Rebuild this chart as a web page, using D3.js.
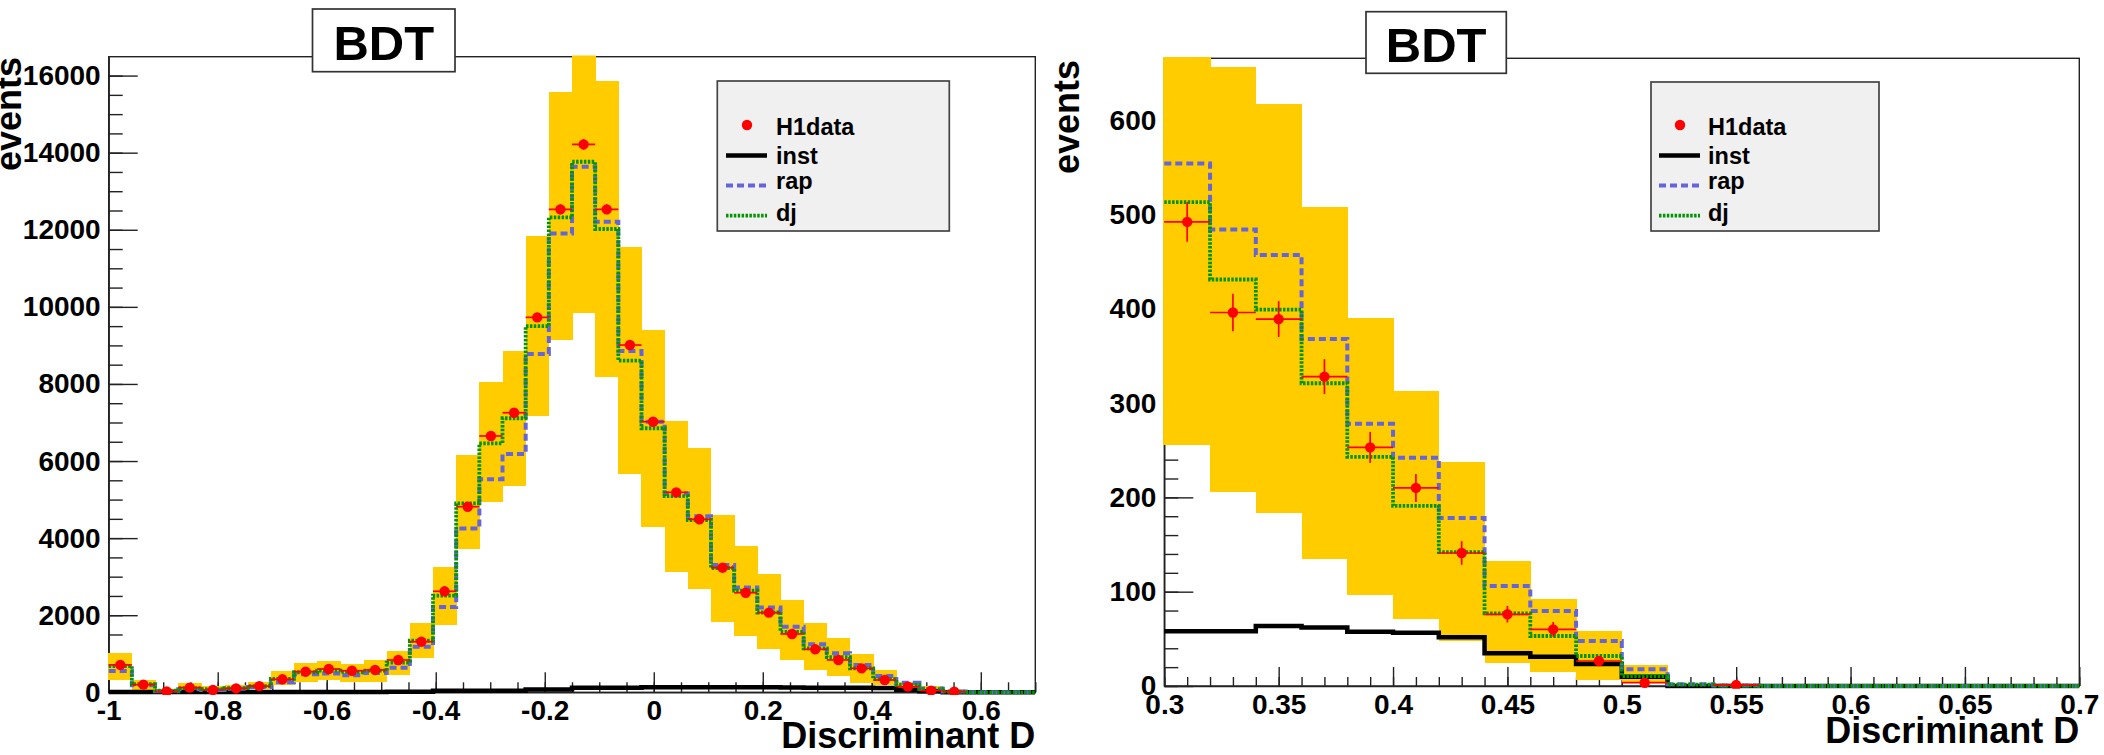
<!DOCTYPE html>
<html><head><meta charset="utf-8">
<script src="https://cdn.jsdelivr.net/npm/d3@7"></script>
<style>
html,body{margin:0;padding:0;background:#fff;overflow:hidden;}
svg{display:block;}
</style></head><body>
<svg id="c" width="2104" height="755"></svg>
<script>
// ---------------- DATA ----------------
const seriesNames = ["H1data", "inst", "rap", "dj"];
const titleText = "BDT";
const xTitle = "Discriminant D";
const yTitle = "events";

// Left histogram: 40 bins over [-1, 0.7]
const leftRange = [-1, 0.7];
const leftBins = 40;
const leftYMax = 16490;
const leftXTicks = [-1, -0.8, -0.6, -0.4, -0.2, 0, 0.2, 0.4, 0.6];
const leftYTicks = [0, 2000, 4000, 6000, 8000, 10000, 12000, 14000, 16000];
const leftData = [710,200,20,120,60,100,160,337,535,605,560,580,838,1313,2620,4815,6650,7253,9728,12530,14215,12530,9009,7020,5188,4488,3233,2584,2066,1513,1115,839,622,319,146,42,16,0,0,0];
const leftDataErr = [40,20,6,15,10,14,18,25,30,30,30,30,35,45,60,80,95,100,115,130,140,130,110,100,85,80,70,60,55,45,40,35,30,22,15,8,5,0,0,0];
const leftBandLo = [320,60,0,30,10,40,90,190,275,320,275,275,450,880,1750,3710,4945,5360,7180,9140,9850,8187,5663,4297,3129,2680,1816,1469,1115,839,579,424,233,190,60,10,0,0,0,0];
const leftBandHi = [990,280,60,200,130,170,240,510,735,770,710,795,1030,1770,3230,6130,8015,8820,11820,15540,17000,15840,11517,9381,7004,6304,4574,3752,3043,2351,1772,1375,968,535,233,120,40,0,0,0];
const leftRap = [555,180,30,80,60,90,140,260,470,490,440,500,640,1180,2210,4250,5530,6180,8780,11900,13635,12210,8854,7020,5160,4570,3300,2720,2200,1700,1245,1010,710,420,250,100,20,0,0,0];
const leftDj = [680,210,40,110,80,110,160,350,520,560,530,560,770,1340,2510,4900,6460,7110,9500,12320,13765,12020,8603,6850,5090,4470,3220,2640,2070,1570,1140,910,620,340,190,80,20,0,0,0];
const leftInst = [10,10,10,10,10,10,10,10,10,10,10,10,15,15,40,40,40,40,70,70,120,120,120,130,130,130,130,130,130,125,120,120,115,110,65,30,0,0,0,0];

// Right histogram: 20 bins over [0.3, 0.7]
const rightRange = [0.3, 0.7];
const rightBins = 20;
const rightYMax = 665.5;
const rightXTicks = [0.3, 0.35, 0.4, 0.45, 0.5, 0.55, 0.6, 0.65, 0.7];
const rightYTicks = [0, 100, 200, 300, 400, 500, 600];
const rightData = [492,396,389,328,253,210,141,76,60,26.5,3.5,0,1,0,0,0,0,0,0,0];
const rightDataErr = [21,20,19,18.5,16.4,14.8,12.4,8.8,7.9,5,2,0,1,0,0,0,0,0,0,0];
const rightBandLo = [256,206,183,135,97,71,48,24,14.5,6.4,3,0,0,0,0,0,0,0,0,0];
const rightBandHi = [700,655,616,507,389,311,236,131,90.5,57.5,21,0,0,0,0,0,0,0,0,0];
const rightRap = [554,484,457,368,278,242,178,106,79.5,47.7,17.7,1.8,0.5,0,0,0,0,0,0,0];
const rightDj = [513,431,399,321,243,191,142,77,53,31.8,10.6,1.5,0.3,0,0,0,0,0,0,0];
const rightInst = [58,58,63.5,62,57.6,56.5,51.6,34.6,31,23.3,9.9,0,0,0,0,0,0,0,0,0];

// ---------------- STYLE ----------------
const FONT = '"Liberation Sans", Arial, Helvetica, sans-serif';
const COL = {band: "#ffcc00", inst: "#000000", rap: "#6464dc", dj: "#009600", data: "#ff0000", axis: "#222222"};
const RAP_DASH = "7,4", DJ_DASH = "2.5,1.4";

const svg = d3.select("#c");
svg.append("rect").attr("width", 2104).attr("height", 755).attr("fill", "#fff");
const defs = svg.append("defs");

function fmt(d) { return String(+d.toFixed(3)); }

function styleAxis(sel, fs) {
  sel.attr("font-family", FONT).attr("font-weight", "bold").attr("font-size", fs);
  sel.selectAll("line,path").attr("stroke", COL.axis).attr("stroke-width", 1.4);
  sel.selectAll("text").attr("fill", "#000");
}

function panel(o) {
  const b = o.box;
  const x = d3.scaleLinear().domain(o.range).range([b.x0, b.x1]);
  const y = d3.scaleLinear().domain([0, o.yMax]).range([b.y1, b.y0]);
  const g = svg.append("g");

  // frame
  g.append("rect").attr("x", b.x0).attr("y", b.y0).attr("width", b.x1 - b.x0).attr("height", b.y1 - b.y0)
    .attr("fill", "none").attr("stroke", COL.axis).attr("stroke-width", 1.4);

  // minor ticks
  const nxm = Math.round((o.range[1] - o.range[0]) / o.xMinorStep);
  const xMinor = d3.range(nxm + 1).map(i => o.range[0] + i * o.xMinorStep);
  const yMinor = d3.range(0, o.yMax, o.yMinorStep);

  const gxm = g.append("g").attr("transform", `translate(0,${b.y1})`)
    .call(d3.axisBottom(x).tickValues(xMinor).tickSize(-o.xMinorLen).tickSizeOuter(0).tickFormat(""));
  gxm.select(".domain").remove(); styleAxis(gxm, 28);
  const gym = g.append("g").attr("transform", `translate(${b.x0},0)`)
    .call(d3.axisLeft(y).tickValues(yMinor).tickSize(-o.yMinorLen).tickSizeOuter(0).tickFormat(""));
  gym.select(".domain").remove(); styleAxis(gym, 28);

  // major ticks + labels
  const gx = g.append("g").attr("transform", `translate(0,${b.y1})`)
    .call(d3.axisBottom(x).tickValues(o.xTicks).tickSize(-o.xMajorLen).tickSizeOuter(0).tickPadding(8).tickFormat(fmt));
  styleAxis(gx, 28);
  const gy = g.append("g").attr("transform", `translate(${b.x0},0)`)
    .call(d3.axisLeft(y).tickValues(o.yTicks).tickSize(-o.yMajorLen).tickSizeOuter(0).tickPadding(8).tickFormat(fmt));
  styleAxis(gy, 28);

  // clip
  const cid = "clip" + o.id;
  defs.append("clipPath").attr("id", cid).append("rect")
    .attr("x", b.x0 - 1.2).attr("y", b.y0 - 1.2).attr("width", b.x1 - b.x0 + 1.2).attr("height", b.y1 - b.y0 + 4);
  const cg = g.append("g").attr("clip-path", `url(#${cid})`);

  const nb = o.bins;
  const edges = d3.range(nb + 1).map(i => o.range[0] + i * (o.range[1] - o.range[0]) / nb);
  const top = v => y(Math.min(v, o.yMax * 1.05));

  // yellow uncertainty band
  cg.append("g").attr("shape-rendering", "crispEdges").selectAll("rect")
    .data(d3.range(nb).filter(i => o.hi[i] > o.lo[i])).join("rect")
    .attr("x", i => x(edges[i]) - (i === 0 ? 1.2 : 0))
    .attr("width", i => x(edges[i + 1]) - x(edges[i]) + 0.5 + (i === 0 ? 1.2 : 0))
    .attr("y", i => top(o.hi[i]) - 1.2).attr("height", i => y(o.lo[i]) - top(o.hi[i]) + 1.2)
    .attr("fill", COL.band);

  const line = d3.line().x(d => x(d[0])).y(d => y(d[1])).curve(d3.curveStepAfter);
  const pts = v => v.map((val, i) => [edges[i], val]).concat([[edges[nb], v[nb - 1]]]);

  cg.append("path").attr("d", line(pts(o.inst))).attr("fill", "none").attr("stroke", COL.inst).attr("stroke-width", 4.5);
  cg.append("path").attr("d", line(pts(o.rap))).attr("fill", "none").attr("stroke", COL.rap).attr("stroke-width", 4).attr("stroke-dasharray", RAP_DASH);
  cg.append("path").attr("d", line(pts(o.dj))).attr("fill", "none").attr("stroke", COL.dj).attr("stroke-width", 3.8).attr("stroke-dasharray", DJ_DASH);

  // data points with error bars
  const idx = d3.range(nb).filter(i => o.data[i] > 0);
  const dg = cg.append("g");
  dg.selectAll(".eh").data(idx).join("line")
    .attr("x1", i => x(edges[i])).attr("x2", i => x(edges[i + 1]))
    .attr("y1", i => y(o.data[i])).attr("y2", i => y(o.data[i]))
    .attr("stroke", COL.data).attr("stroke-width", 1.7);
  dg.selectAll(".ev").data(idx).join("line")
    .attr("x1", i => x((edges[i] + edges[i + 1]) / 2)).attr("x2", i => x((edges[i] + edges[i + 1]) / 2))
    .attr("y1", i => y(o.data[i] + o.err[i])).attr("y2", i => y(Math.max(0, o.data[i] - o.err[i])))
    .attr("stroke", COL.data).attr("stroke-width", 1.7);
  dg.selectAll("circle").data(idx).join("circle")
    .attr("cx", i => x((edges[i] + edges[i + 1]) / 2)).attr("cy", i => y(o.data[i])).attr("r", 5.2)
    .attr("fill", COL.data);

  // axis titles
  g.append("text").attr("x", b.x1).attr("y", o.xTitleY).attr("text-anchor", "end")
    .attr("font-family", FONT).attr("font-weight", "bold").attr("font-size", 36).attr("fill", "#000").text(xTitle);
  g.append("text").attr("transform", `translate(${o.yTitle.x},${o.yTitle.y}) rotate(-90)`).attr("text-anchor", "end")
    .attr("font-family", FONT).attr("font-weight", "bold").attr("font-size", 36).attr("fill", "#000").text(yTitle);

  // legend
  const L = o.legend;
  const lg = g.append("g");
  lg.append("rect").attr("x", L.x0).attr("y", L.y0).attr("width", L.x1 - L.x0).attr("height", L.y1 - L.y0)
    .attr("fill", "#f0f0f0").attr("stroke", "#444").attr("stroke-width", 1.7);
  lg.append("circle").attr("cx", L.mx).attr("cy", L.rows[0]).attr("r", 5.2).attr("fill", COL.data);
  lg.append("line").attr("x1", L.lx0).attr("x2", L.lx1).attr("y1", L.rows[1]).attr("y2", L.rows[1]).attr("stroke", COL.inst).attr("stroke-width", 4.5);
  lg.append("line").attr("x1", L.lx0).attr("x2", L.lx1).attr("y1", L.rows[2]).attr("y2", L.rows[2]).attr("stroke", COL.rap).attr("stroke-width", 4).attr("stroke-dasharray", RAP_DASH);
  lg.append("line").attr("x1", L.lx0).attr("x2", L.lx1).attr("y1", L.rows[3]).attr("y2", L.rows[3]).attr("stroke", COL.dj).attr("stroke-width", 3.8).attr("stroke-dasharray", DJ_DASH);
  lg.selectAll("text").data(seriesNames).join("text")
    .attr("x", L.tx).attr("y", (d, i) => L.base[i])
    .attr("font-family", FONT).attr("font-weight", "bold").attr("font-size", 23.5).attr("fill", "#000").text(d => d);

  // title box
  const T = o.titleBox;
  g.append("rect").attr("x", T.x0).attr("y", T.y0).attr("width", T.x1 - T.x0).attr("height", T.y1 - T.y0)
    .attr("fill", "#fff").attr("stroke", "#333").attr("stroke-width", 1.7);
  g.append("text").attr("x", (T.x0 + T.x1) / 2).attr("y", T.base).attr("text-anchor", "middle")
    .attr("font-family", FONT).attr("font-weight", "bold").attr("font-size", 49).attr("fill", "#000").text(titleText);
}

panel({
  id: "L", box: {x0: 108.7, x1: 1035.3, y0: 56.7, y1: 692.3},
  range: leftRange, bins: leftBins, yMax: leftYMax,
  xTicks: leftXTicks, yTicks: leftYTicks, xMinorStep: 0.05, yMinorStep: 500,
  xMajorLen: 20, xMinorLen: 10, yMajorLen: 29, yMinorLen: 14,
  data: leftData, err: leftDataErr, lo: leftBandLo, hi: leftBandHi, rap: leftRap, dj: leftDj, inst: leftInst,
  xTitleY: 748, yTitle: {x: 21, y: 57},
  legend: {x0: 717.3, x1: 949.3, y0: 81, y1: 231, mx: 747, lx0: 726, lx1: 767, tx: 776,
           rows: [125, 155.5, 185.4, 215.7], base: [134.5, 163.5, 188.5, 221]},
  titleBox: {x0: 312.5, x1: 455, y0: 9, y1: 71.7, base: 60}
});

panel({
  id: "R", box: {x0: 1164.3, x1: 2079.3, y0: 58.3, y1: 686},
  range: rightRange, bins: rightBins, yMax: rightYMax,
  xTicks: rightXTicks, yTicks: rightYTicks, xMinorStep: 0.01, yMinorStep: 20,
  xMajorLen: 19, xMinorLen: 9, yMajorLen: 29, yMinorLen: 14,
  data: rightData, err: rightDataErr, lo: rightBandLo, hi: rightBandHi, rap: rightRap, dj: rightDj, inst: rightInst,
  xTitleY: 742.5, yTitle: {x: 1079, y: 60},
  legend: {x0: 1651, x1: 1879, y0: 82, y1: 231, mx: 1680, lx0: 1659, lx1: 1700, tx: 1708,
           rows: [125, 155.5, 185.4, 215.7], base: [135, 164, 189, 221]},
  titleBox: {x0: 1366, x1: 1506.3, y0: 11.7, y1: 73.3, base: 61.7}
});
</script>
</body></html>
